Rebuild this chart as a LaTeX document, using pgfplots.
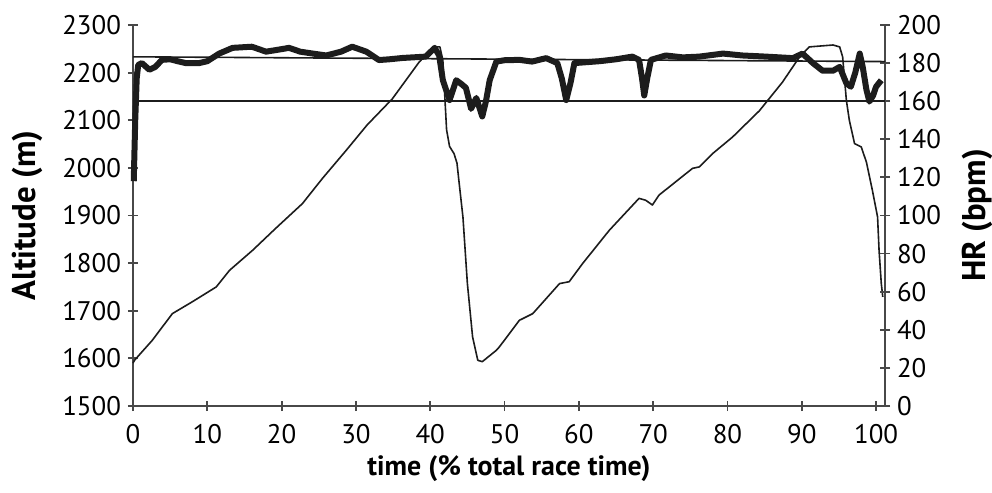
\documentclass[border=0pt]{standalone}
\usepackage{fontspec}
\setmainfont{PT Sans}
\usepackage{pgfplots}
\pgfplotsset{compat=1.18}
\definecolor{axisgray}{HTML}{484848}
\definecolor{ink}{HTML}{1C1C1C}

\begin{document}
\begin{tikzpicture}
\useasboundingbox (-66.5bp,-43.5bp) rectangle (429.5bp,203bp);
\pgfplotsset{
  every axis/.append style={
    width=376bp, height=190.5bp, scale only axis,
    xmin=0, xmax=101.2,
    font=\fontsize{13.5}{15}\selectfont,
    tick align=center,
    major tick length=5bp,
    axis line style={axisgray, line width=1.1bp},
    tick style={axisgray, line width=0.9bp},
    /pgf/number format/assume math mode=true,
    /pgf/number format/1000 sep={},
    clip=false,
  },
}

% altitude (left axis)
\begin{axis}[
    axis x line*=bottom, axis y line*=left,
    ymin=1500, ymax=2300,
    ytick={1500,1600,...,2300},
    xtick={0,10,...,100},
    xticklabel style={yshift=-3bp},
    xlabel={\bfseries time (\% total race time)},
    ylabel={\bfseries Altitude (m)},
    xlabel style={at={(axis description cs:0.5,-0.165)}, anchor=center,
                  font=\fontsize{14}{16}\selectfont},
    ylabel style={at={(axis description cs:-0.141,0.5)}, anchor=center,
                  font=\fontsize{16.5}{19}\selectfont},
]
\addplot[ink, line width=0.8bp, line join=round] coordinates {
  (0,1590) (0.2,1596) (2.6,1638) (5.3,1694) (8,1719) (11.2,1750)
  (13,1785) (16.1,1827) (19.2,1873) (22.8,1925) (25.5,1978) (28.7,2037)
  (31.5,2090) (34.9,2145) (38.5,2222) (40.2,2250) (40.6,2254) (41.3,2254)
  (41.7,2226) (42.2,2080) (42.6,2045) (43.2,2030) (43.6,2010) (43.9,1967)
  (44.4,1897) (45,1757) (45.7,1645) (46.4,1596) (47,1593) (48.9,1617)
  (49.3,1624) (52,1680) (53.8,1694) (57.4,1757) (58.7,1761) (60.5,1799)
  (64.1,1869) (68.1,1936) (69,1932) (69.9,1922) (70.8,1943) (75.3,1999)
  (76.2,2002) (78,2030) (80.7,2065) (84.3,2120) (87.4,2180) (89.7,2233)
  (91,2254) (94.2,2258) (95.1,2254) (95.5,2233) (96,2142) (96.4,2100)
  (97.1,2051) (98,2044) (98.7,2012) (99.5,1953) (100.2,1897) (100.4,1827)
  (100.7,1757) (100.9,1729)
};
\end{axis}

% heart rate (right axis)
\begin{axis}[
    axis x line=none, axis y line*=right,
    ymin=0, ymax=200,
    ytick={0,20,...,200},
    ylabel={\bfseries HR (bpm)},
    ylabel style={at={(axis description cs:1.1223,0.5)}, anchor=center,
                  font=\fontsize{16.5}{19}\selectfont},
]
\addplot[ink, line width=0.8bp] coordinates {(0,183.3) (101.2,180.8)};
\addplot[ink, line width=0.8bp] coordinates {(0,160.2) (101.2,160.2)};
\addplot[ink, line width=3bp, line join=round] coordinates {
  (0.1,118) (0.3,150) (0.5,172) (0.7,179) (1.2,180) (2.2,176.5) (3,178)
  (3.9,181.7) (5,182) (6,181) (7.1,180) (8.9,180) (10,181) (11.6,185)
  (13.4,188) (16,188.6) (17.9,186) (19.5,187) (21,188) (22.5,186) (24.2,185)
  (26,184) (28,186) (29.5,188.6) (31.4,186) (33.1,181.6) (34.5,182)
  (36.3,182.7) (39.4,183.4) (40.6,188) (41.2,184) (41.7,171) (42.6,160.6)
  (43.5,171) (44.2,169) (44.8,167) (45.5,156) (46.2,161.7) (47,152)
  (47.5,160) (48,171) (48.9,180.8) (50,181.5) (52,181.7) (53.7,180.8)
  (55.6,182.6) (57.1,180) (57.7,172) (58.3,160.6) (58.9,170) (59.4,180)
  (62.8,181) (65,182) (67.2,183.4) (68.1,181.7) (68.5,172) (68.8,163)
  (69.2,172) (69.7,181.7) (71.7,184) (74,183) (76.2,183.4) (79.4,185)
  (82,184) (85.2,183.4) (88.8,182.6) (90.1,185) (91.5,180) (92.8,176)
  (94.2,176) (95.1,178) (96,169.4) (96.6,167.6) (97.2,175) (97.8,185)
  (98.2,178) (98.7,166) (99.1,159.8) (99.6,163) (100,167.6) (100.7,171)
};
\end{axis}
\end{tikzpicture}
\end{document}
